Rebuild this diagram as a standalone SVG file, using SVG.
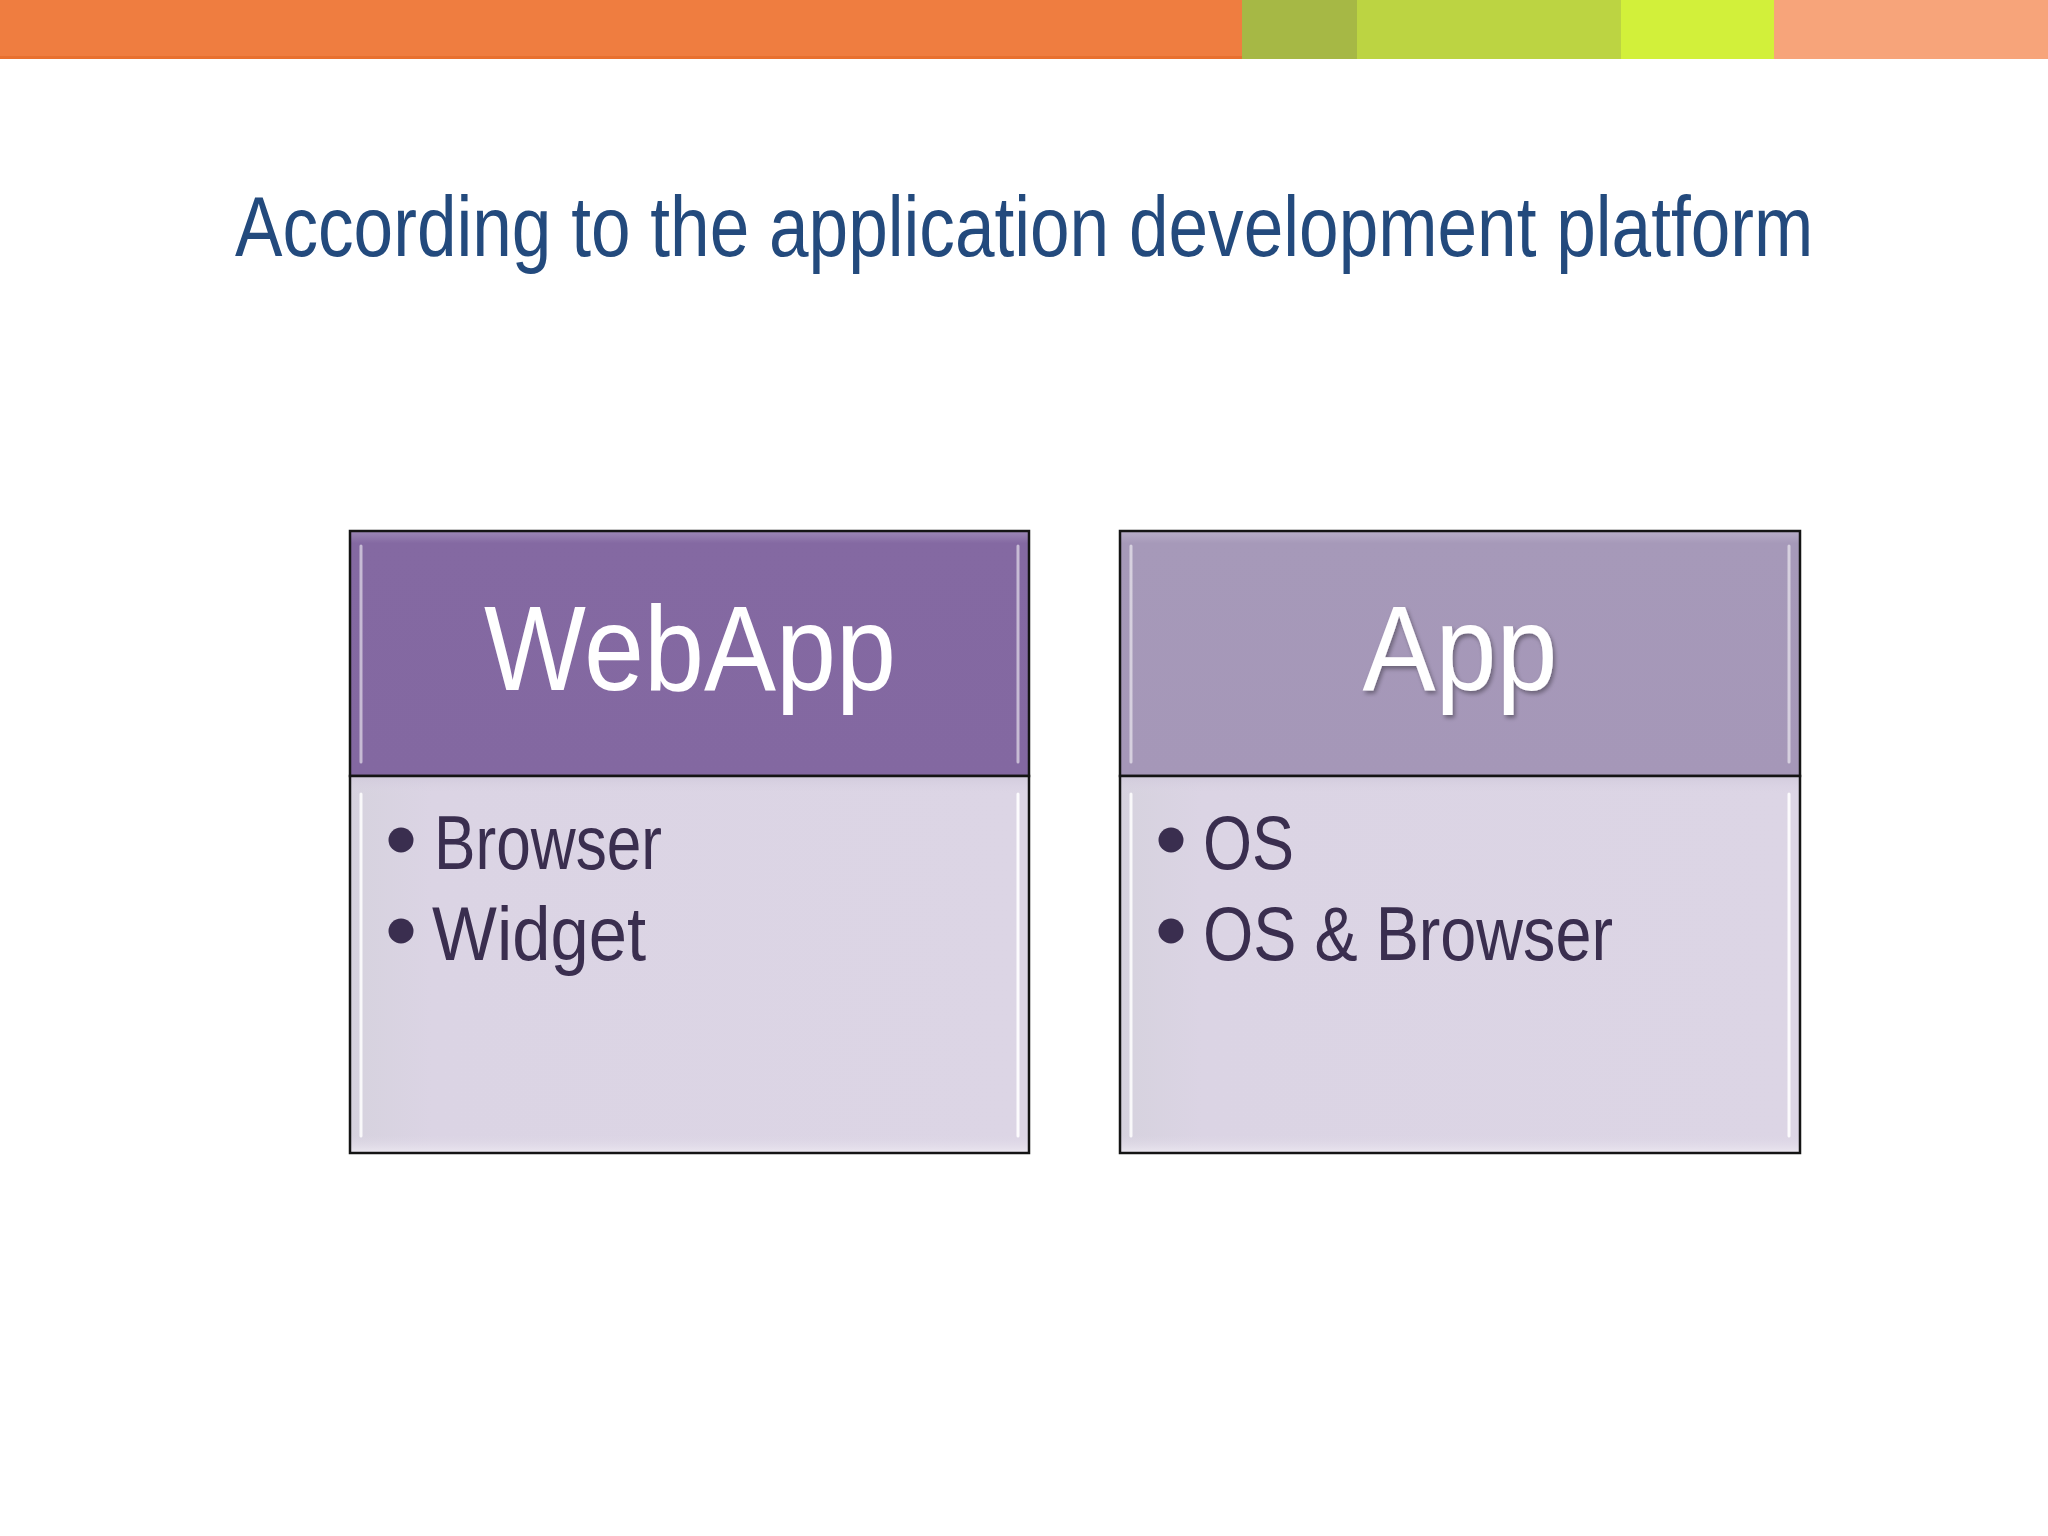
<svg xmlns="http://www.w3.org/2000/svg" width="2048" height="1536" viewBox="0 0 2048 1536">
  <defs>
    <style>
      .title { font-family: "Liberation Sans", "DejaVu Sans", sans-serif; font-size: 86px; fill: #234A7D; }
      .head { font-family: "Liberation Sans", "DejaVu Sans", sans-serif; font-size: 120px; fill: #FFFFFF; text-anchor: middle; }
      .item { font-family: "Liberation Sans", "DejaVu Sans", sans-serif; font-size: 76px; fill: #3A2E4F; }
      .bullet { fill: #3A2E4F; }
      .frame { fill: none; stroke: #141414; stroke-width: 2.5; }
      .hl { fill: none; stroke: #FFFFFF; stroke-width: 3; stroke-linecap: round; }
    </style>
    <linearGradient id="hdrA" x1="0" y1="0" x2="0" y2="1">
      <stop offset="0" stop-color="#9D88B6"/>
      <stop offset="0.05" stop-color="#8469A2"/>
      <stop offset="1" stop-color="#8368A1"/>
    </linearGradient>
    <linearGradient id="hdrB" x1="0" y1="0" x2="0" y2="1">
      <stop offset="0" stop-color="#B8ADC8"/>
      <stop offset="0.05" stop-color="#A699B9"/>
      <stop offset="1" stop-color="#A597B8"/>
    </linearGradient>
    <linearGradient id="body" x1="0" y1="0" x2="1" y2="0">
      <stop offset="0" stop-color="#D6D2DE"/>
      <stop offset="0.12" stop-color="#DBD4E4"/>
      <stop offset="1" stop-color="#DCD5E5"/>
    </linearGradient>
    <linearGradient id="bodyV" x1="0" y1="0" x2="0" y2="1">
      <stop offset="0" stop-color="#CFC8DA" stop-opacity="0.8"/>
      <stop offset="0.05" stop-color="#DCD5E5" stop-opacity="0"/>
      <stop offset="0.95" stop-color="#DCD5E5" stop-opacity="0"/>
      <stop offset="1" stop-color="#EEEAF2" stop-opacity="0.9"/>
    </linearGradient>
    <filter id="shadow" x="-10%" y="-10%" width="120%" height="130%">
      <feGaussianBlur in="SourceAlpha" stdDeviation="2"/>
      <feOffset dx="2" dy="3" result="b"/>
      <feComponentTransfer><feFuncA type="linear" slope="0.35"/></feComponentTransfer>
      <feMerge><feMergeNode/><feMergeNode in="SourceGraphic"/></feMerge>
    </filter>
  </defs>

  <rect x="0" y="0" width="2048" height="1536" fill="#FFFFFF"/>

  <g id="top-bar">
    <rect x="0" y="0" width="1242" height="59" fill="#EF7D40"/>
    <rect x="0" y="56" width="1242" height="3" fill="#E8702F"/>
    <rect x="1242" y="0" width="115" height="59" fill="#A6B845"/>
    <rect x="1357" y="0" width="264" height="59" fill="#BCD442"/>
    <rect x="1621" y="0" width="153" height="59" fill="#D2F03A"/>
    <rect x="1774" y="0" width="274" height="59" fill="#F7A47A"/>
  </g>

  <g id="title" transform="translate(235 256) scale(0.8275 1)">
    <text class="title" x="0" y="0">According to the application development platform</text>
  </g>

  <g id="node-webapp">
    <rect x="350" y="531" width="679" height="245" fill="url(#hdrA)"/>
    <path class="hl" d="M361 546 L361 762" stroke-opacity="0.55"/>
    <path class="hl" d="M1018 546 L1018 762" stroke-opacity="0.55"/>
    <rect class="frame" x="350" y="531" width="679" height="245"/>
    <text class="head" x="690" y="690" textLength="412" lengthAdjust="spacingAndGlyphs">WebApp</text>
    <rect x="350" y="776" width="679" height="377" fill="url(#body)"/>
    <rect x="350" y="776" width="679" height="377" fill="url(#bodyV)"/>
    <path class="hl" d="M361 794 L361 1136" stroke-opacity="0.85"/>
    <path class="hl" d="M1018 794 L1018 1136" stroke-opacity="0.9"/>
    <rect class="frame" x="350" y="776" width="679" height="377"/>
    <circle class="bullet" cx="401" cy="840" r="12.5"/>
    <text class="item" x="434" y="869" textLength="228" lengthAdjust="spacingAndGlyphs">Browser</text>
    <circle class="bullet" cx="401" cy="931" r="12.5"/>
    <text class="item" x="432" y="960" textLength="214" lengthAdjust="spacingAndGlyphs">Widget</text>
  </g>

  <g id="node-app">
    <rect x="1120" y="531" width="680" height="245" fill="url(#hdrB)"/>
    <path class="hl" d="M1131 546 L1131 762" stroke-opacity="0.55"/>
    <path class="hl" d="M1789 546 L1789 762" stroke-opacity="0.55"/>
    <rect class="frame" x="1120" y="531" width="680" height="245"/>
    <text class="head" x="1460" y="690" textLength="195" lengthAdjust="spacingAndGlyphs" filter="url(#shadow)">App</text>
    <rect x="1120" y="776" width="680" height="377" fill="url(#body)"/>
    <rect x="1120" y="776" width="680" height="377" fill="url(#bodyV)"/>
    <path class="hl" d="M1131 794 L1131 1136" stroke-opacity="0.85"/>
    <path class="hl" d="M1789 794 L1789 1136" stroke-opacity="0.9"/>
    <rect class="frame" x="1120" y="776" width="680" height="377"/>
    <circle class="bullet" cx="1171" cy="840" r="12.5"/>
    <text class="item" x="1203" y="869" textLength="91" lengthAdjust="spacingAndGlyphs">OS</text>
    <circle class="bullet" cx="1171" cy="931" r="12.5"/>
    <text class="item" x="1203" y="960" textLength="410" lengthAdjust="spacingAndGlyphs">OS &amp; Browser</text>
  </g>
</svg>
